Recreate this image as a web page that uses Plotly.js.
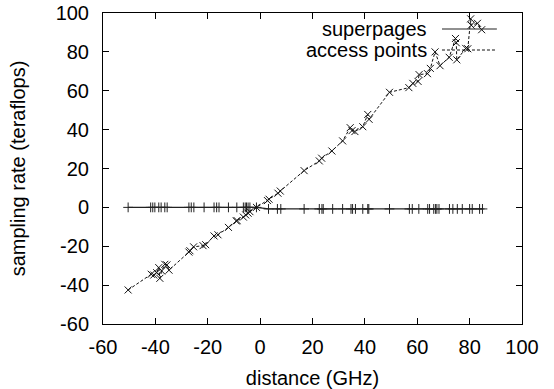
<!DOCTYPE html>
<html>
<head>
<meta charset="utf-8">
<script src="https://cdn.plot.ly/plotly-3.0.1.min.js"></script>
<style>html,body{margin:0;padding:0;background:#fff;}#chart{width:554px;height:389px;}</style>
</head>
<body>
<div id="chart"></div>
<script>
// superpages series
const spX = [-50.4, -41.8, -41.0, -40.2, -38.7, -37.8, -36.4, -35.5, -27.2, -26.3, -25.3, -21.4, -17.6, -16.6, -15.7, -12.1, -8.9, -6.4, -5.7, -5.2, -4.6, -3.9, -1.4, 3.2, 6.6, 7.9, 16.8, 22.6, 23.6, 24.1, 27.7, 31.5, 34.7, 35.3, 36.4, 39.2, 41.1, 41.5, 49.4, 57.0, 58.1, 60.6, 64.0, 64.7, 66.3, 67.0, 67.5, 68.3, 72.3, 73.6, 75.3, 77.2, 80.0, 81.0, 83.8, 84.9];
const spY = [0, 0, 0, 0, 0, 0, 0, 0, 0, 0, 0, 0, 0, 0, 0, 0, 0, 0, 0, 0, 0, 0, 0, -0.8, -0.8, -0.8, -0.8, -0.8, -0.8, -0.8, -0.8, -0.8, -0.8, -0.8, -0.8, -0.8, -0.8, -0.8, -0.8, -0.8, -0.8, -0.8, -0.8, -0.8, -0.8, -0.8, -0.8, -0.8, -0.8, -0.8, -0.8, -0.8, -0.8, -0.8, -0.8, -0.8];
// access points series
const apX = [-50.4, -41.6, -40.6, -39.5, -38.7, -38.3, -37.6, -36.4, -35.6, -34.8, -27.2, -26.8, -25.4, -21.8, -20.8, -17.6, -16.1, -12.1, -9.1, -8.8, -6.4, -5.5, -4.6, -3.9, -1.4, 2.8, 3.4, 6.8, 7.7, 16.8, 22.6, 23.5, 27.4, 31.5, 34.4, 35.1, 36.2, 39.2, 41.1, 41.6, 49.4, 56.8, 58.3, 60.3, 60.7, 63.9, 65.0, 66.8, 68.7, 72.2, 74.6, 74.9, 75.1, 78.5, 79.3, 80.4, 80.6, 83.0, 84.6];
const apY = [-42.5, -34.4, -34.8, -33.6, -31.0, -36.5, -32.7, -29.3, -29.6, -32.3, -23.0, -22.3, -20.3, -19.7, -19.2, -14.7, -14.1, -10.3, -7.0, -6.8, -5.0, -3.9, -3.0, -2.2, 0.0, 3.5, 4.2, 7.3, 8.4, 18.9, 23.9, 25.3, 29.0, 34.2, 41.0, 39.5, 39.0, 41.5, 47.8, 45.3, 59.2, 61.6, 63.8, 64.8, 68.3, 68.8, 71.5, 80.0, 72.9, 77.2, 86.9, 84.7, 75.9, 81.8, 81.6, 97.0, 93.7, 94.7, 91.4];
const seriesNames = ["superpages", "access points"];
const xTicks = [-60, -40, -20, 0, 20, 40, 60, 80, 100];
const yTicks = [-60, -40, -20, 0, 20, 40, 60, 80, 100];

const FONT = "Liberation Sans, Arial, Helvetica, sans-serif";
const FS = 20;
const traces = [
  {x: spX, y: spY, type: "scatter", mode: "lines+markers", name: seriesNames[0], showlegend: false,
   line: {color: "#222", width: 1.2},
   marker: {symbol: "cross-thin", size: 7, line: {color: "#222", width: 1}}},
  {x: apX, y: apY, type: "scatter", mode: "lines+markers", name: seriesNames[1], showlegend: false,
   line: {color: "#111", width: 1, dash: "3px,2px"},
   marker: {symbol: "x-thin", size: 7, line: {color: "#111", width: 1}}}
];

const axisCommon = {
  showline: true, linecolor: "#000", linewidth: 1, mirror: "ticks",
  ticks: "inside", ticklen: 6, tickcolor: "#000", tickwidth: 1,
  showgrid: false, zeroline: false, automargin: false,
  tickfont: {family: FONT, size: FS, color: "#000"}
};

const layout = {
  width: 554, height: 389,
  margin: {l: 103, r: 32, t: 13, b: 65},
  paper_bgcolor: "#fff", plot_bgcolor: "#fff",
  font: {family: FONT, color: "#000"},
  xaxis: Object.assign({}, axisCommon, {range: [-60, 100], tickvals: xTicks, ticktext: xTicks.map(String),
    ticklabelstandoff: 5,
    title: {text: "distance (GHz)", font: {family: FONT, size: FS}, standoff: 18}}),
  yaxis: Object.assign({}, axisCommon, {range: [-60, 100], tickvals: yTicks, ticktext: yTicks.map(String),
    ticklabelstandoff: 9,
    title: {text: "sampling rate (teraflops)", font: {family: FONT, size: FS}, standoff: 24}}),
  annotations: [
    {xref: "paper", yref: "paper", x: 0.778, y: 0.9486, xanchor: "right", yanchor: "middle", showarrow: false,
     text: seriesNames[0], font: {family: FONT, size: FS, color: "#000"}},
    {xref: "paper", yref: "paper", x: 0.778, y: 0.881, xanchor: "right", yanchor: "middle", showarrow: false,
     text: seriesNames[1], font: {family: FONT, size: FS, color: "#000"}}
  ],
  shapes: [
    {type: "line", xref: "paper", yref: "paper", x0: 0.809, x1: 0.940, y0: 0.9486, y1: 0.9486,
     line: {color: "#222", width: 1.2}},
    {type: "line", xref: "paper", yref: "paper", x0: 0.809, x1: 0.940, y0: 0.881, y1: 0.881,
     line: {color: "#111", width: 1, dash: "3px,2px"}}
  ]
};

Plotly.newPlot("chart", traces, layout, {displayModeBar: false, staticPlot: true});
</script>
</body>
</html>
